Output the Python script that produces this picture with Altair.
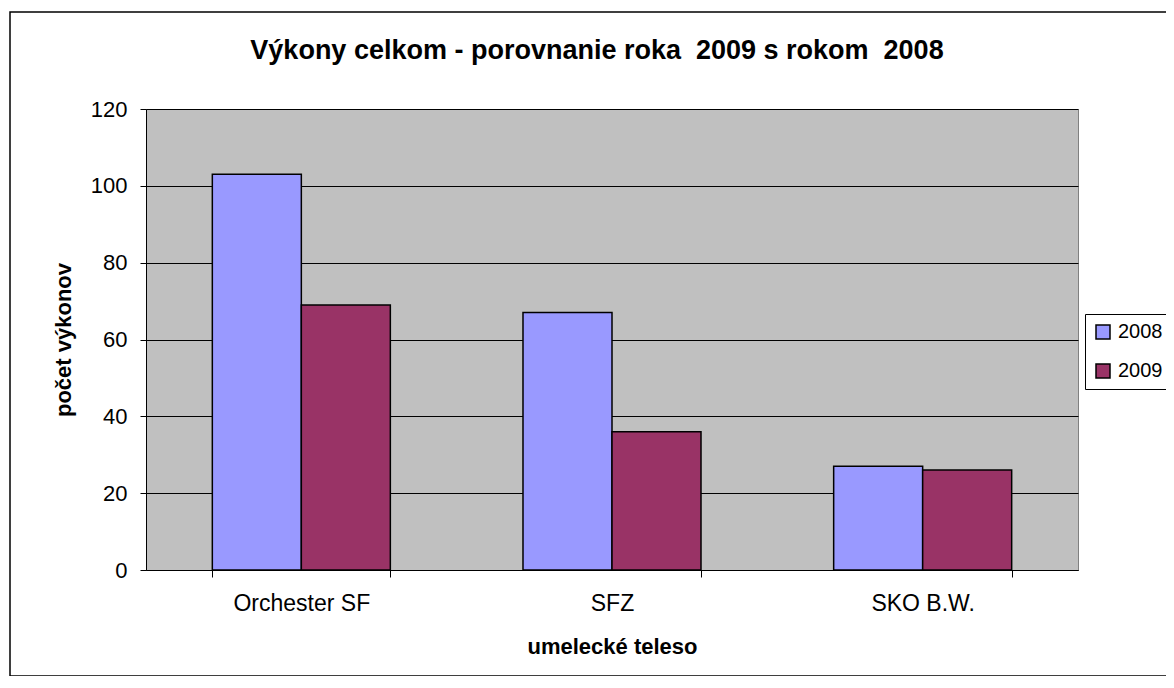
import altair as alt
import pandas as pd

categories = ["Orchester SF", "SFZ", "SKO B.W."]
years = ["2008", "2009"]
values_2008 = [103, 67, 27]
values_2009 = [69, 36, 26]
colors = ["#9999FF", "#993366"]
y_ticks = [0, 20, 40, 60, 80, 100, 120]

rows = []
for i, c in enumerate(categories):
    rows.append({"teleso": c, "rok": years[0], "pocet": values_2008[i]})
    rows.append({"teleso": c, "rok": years[1], "pocet": values_2009[i]})
df = pd.DataFrame(rows)

FONT = "Liberation Sans"
TITLE = "Výkony celkom - porovnanie roka \u00a02009 s rokom \u00a02008"

bars = alt.Chart(df).mark_bar(stroke="black", strokeWidth=1.5).encode(
    x=alt.X("teleso:N", sort=categories, title="umelecké teleso",
            scale=alt.Scale(paddingInner=0.427, paddingOuter=0.2135),
            axis=alt.Axis(labelAngle=0, tickBand="extent", tickSize=7,
                          labelFontSize=23, labelPadding=15, titlePadding=21)),
    xOffset=alt.XOffset("rok:N", sort=years, scale=alt.Scale(paddingInner=0, paddingOuter=0)),
    y=alt.Y("pocet:Q", title="počet výkonov",
            scale=alt.Scale(domain=[0, 120], nice=False),
            axis=alt.Axis(values=y_ticks, tickSize=6, labelPadding=13, titlePadding=15)),
    color=alt.Color("rok:N", sort=years, scale=alt.Scale(domain=years, range=colors),
                    legend=alt.Legend(title=None, orient="none", legendX=939, legendY=205,
                                      symbolType="square", symbolSize=196,
                                      symbolStrokeColor="black", symbolStrokeWidth=1.5,
                                      labelFontSize=20, labelFont=FONT, labelColor="black",
                                      labelOffset=5,
                                      fillColor="white", strokeColor="black",
                                      padding=8, rowPadding=19)),
)

frame = alt.Chart(pd.DataFrame({"a": [0]})).mark_rect(fill=None, stroke="black", strokeWidth=1.5).encode(
    x=alt.value(-136), x2=alt.value(1100), y=alt.value(-97), y2=alt.value(567)
)

chart = alt.layer(frame, bars).properties(
    width=932, height=461,
    title=alt.TitleParams(TITLE,
                          font=FONT, fontSize=27, fontWeight="bold", color="black",
                          anchor="middle", baseline="middle", offset=-67, dx=-15),
    autosize=alt.AutoSizeParams(type="none"),
    padding={"left": 138, "top": 101, "right": 88, "bottom": 106},
    background="white",
).configure_view(
    fill="#C0C0C0", stroke="#808080", strokeWidth=1
).configure_axis(
    labelFont=FONT, labelFontSize=22, labelColor="black",
    titleFont=FONT, titleFontSize=22, titleFontWeight="bold", titleColor="black",
    domainColor="black", tickColor="black", domainWidth=1, tickWidth=1
).configure_axisY(
    grid=True, gridColor="black", gridWidth=1, gridOpacity=1
).configure_axisX(
    grid=False
)

chart.save("out.html", embed_options={"renderer": "svg", "actions": False})
